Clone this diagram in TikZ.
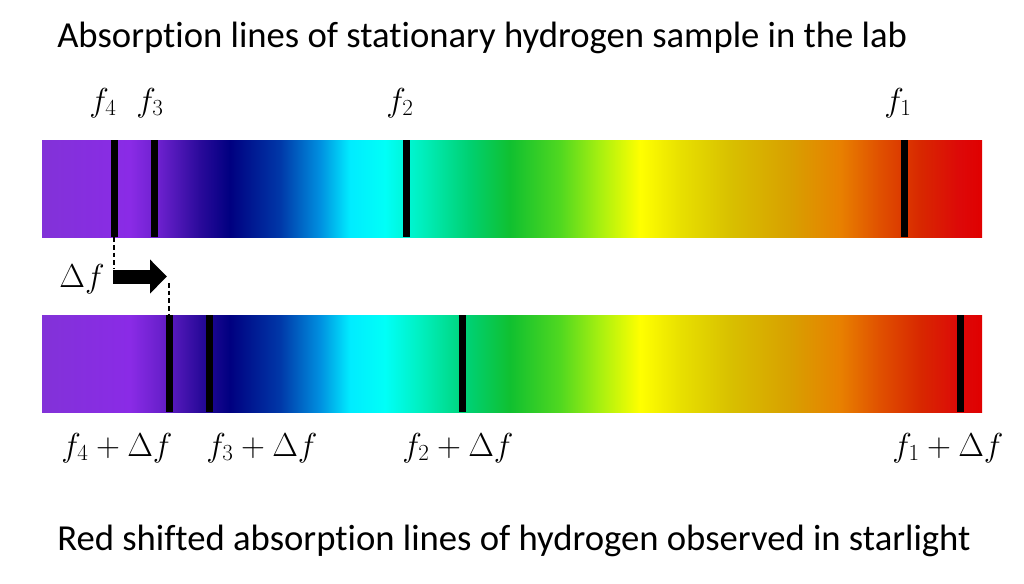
\documentclass[tikz,border=0pt]{standalone}
\usepackage{fontspec}
\setmainfont[Ligatures={NoCommon}]{Carlito}
\usepackage{xcolor}
\usepackage{tikz}
\usetikzlibrary{arrows.meta, positioning}

% spectrum colours, violet to red
\definecolor{sp00}{HTML}{8232D8}
\definecolor{sp01}{HTML}{8A2BE6}
\definecolor{sp02}{HTML}{6A20CC}
\definecolor{sp03}{HTML}{2A0A9A}
\definecolor{sp04}{HTML}{000080}
\definecolor{sp05}{HTML}{0038A8}
\definecolor{sp06}{HTML}{0090E0}
\definecolor{sp07}{HTML}{00ECFF}
\definecolor{sp08}{HTML}{00FFF8}
\definecolor{sp09}{HTML}{00F0C0}
\definecolor{sp10}{HTML}{00D070}
\definecolor{sp11}{HTML}{10C030}
\definecolor{sp12}{HTML}{50D820}
\definecolor{sp13}{HTML}{A8F010}
\definecolor{sp14}{HTML}{FFFF00}
\definecolor{sp15}{HTML}{E8E000}
\definecolor{sp16}{HTML}{D8C000}
\definecolor{sp17}{HTML}{D8A000}
\definecolor{sp18}{HTML}{E88000}
\definecolor{sp19}{HTML}{E05000}
\definecolor{sp20}{HTML}{D82800}
\definecolor{sp21}{HTML}{DD0808}
\definecolor{sp22}{HTML}{E00000}

\pgfdeclarehorizontalshading{spectrum}{100bp}{color(0bp)=(sp00); color(25bp)=(sp00);
  color(29.68bp)=(sp01); color(31.28bp)=(sp02); color(33.4bp)=(sp03); color(35bp)=(sp04);
  color(37.66bp)=(sp05); color(39.79bp)=(sp06); color(41.38bp)=(sp07); color(43.24bp)=(sp08);
  color(45.11bp)=(sp09); color(47.77bp)=(sp10); color(49.89bp)=(sp11); color(52.55bp)=(sp12);
  color(54.68bp)=(sp13); color(56.81bp)=(sp14); color(58.94bp)=(sp15); color(61.6bp)=(sp16);
  color(64.79bp)=(sp17); color(67.45bp)=(sp18); color(69.57bp)=(sp19); color(71.7bp)=(sp20);
  color(73.83bp)=(sp21); color(75bp)=(sp22); color(100bp)=(sp22)}

\tikzstyle{bar} = [rectangle, shading=spectrum, draw=none, inner sep=0pt, minimum width=705pt, minimum height=72.75pt]
\tikzstyle{absline} = [rectangle, fill=black, inner sep=0pt, minimum width=5.25pt, minimum height=72.75pt]
\tikzstyle{lbl} = [font=\fontsize{24}{28}\selectfont, inner sep=0pt, anchor=base]
\tikzstyle{heading} = [font=\fontsize{27.5}{32}\selectfont, inner sep=0pt, anchor=base west]
\tikzstyle{guide} = [dash pattern=on 3.5pt off 2.25pt, line width=0.9pt]
\tikzstyle{shiftarrow} = [line width=10.5pt, -{Triangle[length=12.75pt, width=24.75pt]}]

\begin{document}
\begin{tikzpicture}[x=0.75pt, y=-0.75pt]
\useasboundingbox (0,0) rectangle (1024,583);

% Headings
\node[heading] (toptext) at (57,47) {Absorption lines of stationary hydrogen sample in the lab};
\node[heading] (bottext) at (57,550) {Red shifted absorption lines of hydrogen observed in starlight};

% Lab spectrum
\node[bar] (lab) at (512,188.5) {};
\foreach \x/\n in {114/4, 154/3, 406/2, 904/1}
  \node[absline] (a\n) at (\x,188.5) {};

\node[lbl] (fa4) at (103,111) {$f_4$};
\node[lbl] (fa3) at (150,111) {$f_3$};
\node[lbl] (fa2) at (400,111) {$f_2$};
\node[lbl] (fa1) at (898,111) {$f_1$};

% Star spectrum
\node[bar] (star) at (512,363.5) {};
\foreach \x/\n in {169/4, 209/3, 462/2, 960/1}
  \node[absline] (b\n) at (\x,363.5) {};

\node[lbl] (fb4) at (117,456) {$f_4+\Delta f$};
\node[lbl] (fb3) at (262,456) {$f_3+\Delta f$};
\node[lbl] (fb2) at (458,456) {$f_2+\Delta f$};
\node[lbl] (fb1) at (948,456) {$f_1+\Delta f$};

% Shift
\coordinate (dtop) at (114,269);
\coordinate (dbot) at (169,283);
\coordinate (astart) at (113,276.5);
\coordinate (aend) at (167,276.5);
\draw[guide] (a4.south) -- (dtop);
\draw[guide] (dbot) -- (b4.north);
\draw[shiftarrow] (astart) -- (aend);
\node[lbl] (df) at (82,287) {$\Delta f$};

\end{tikzpicture}
\end{document}
